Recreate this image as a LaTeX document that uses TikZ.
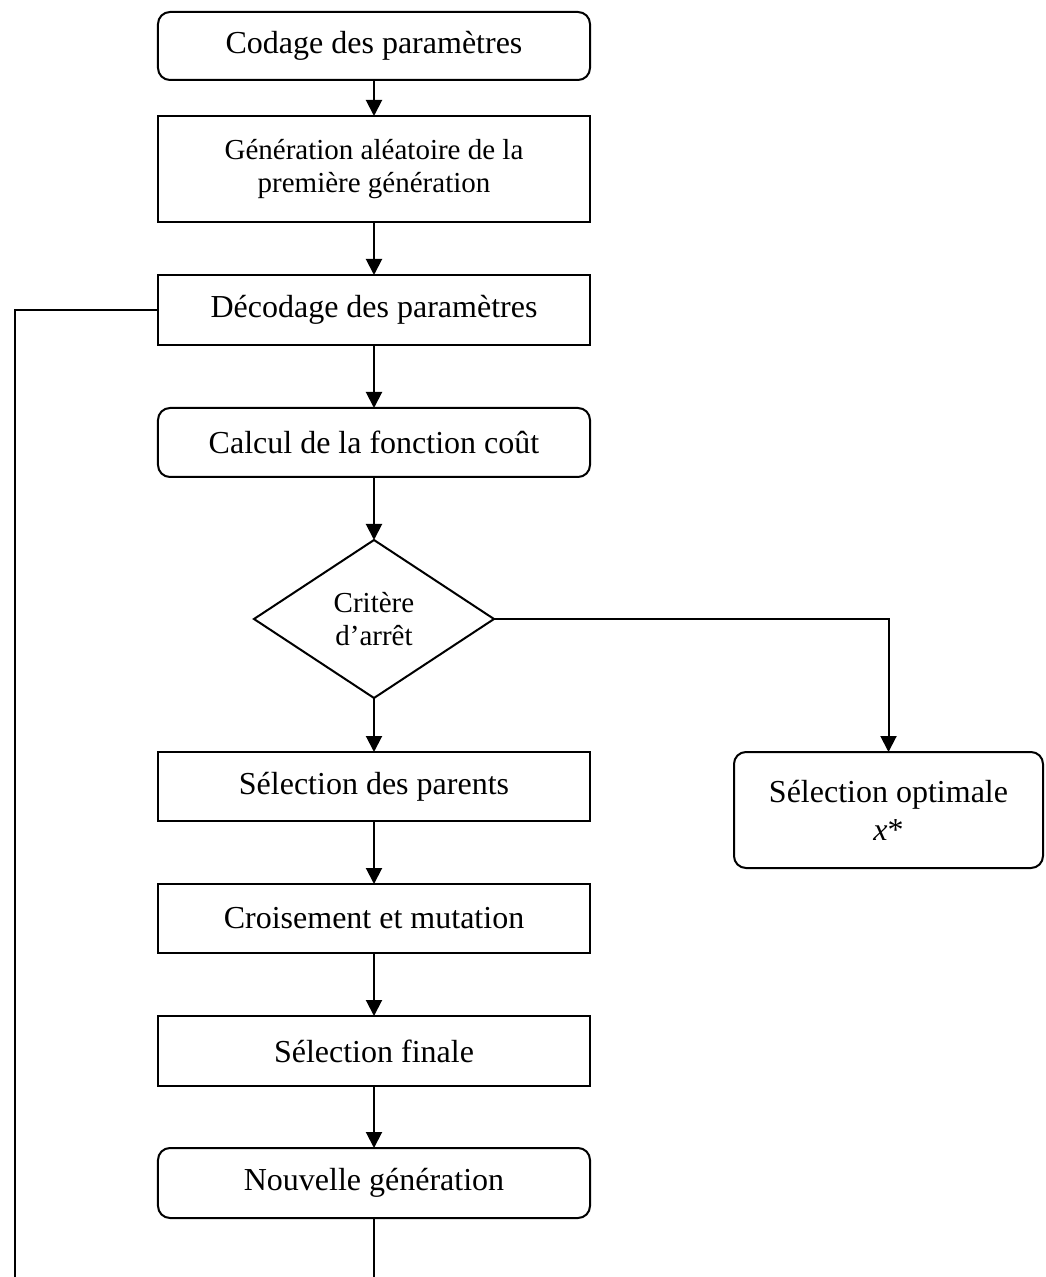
\documentclass[tikz,border=0pt]{standalone}
\usepackage{fontspec}
\setmainfont{Liberation Serif}
\usetikzlibrary{arrows.meta, positioning, shapes.geometric}

\begin{document}
\begin{tikzpicture}[
  node distance=31.5pt,
  box/.style={draw, line width=1pt, outer sep=0pt, align=center, minimum width=216pt, minimum height=34.5pt, inner sep=3pt, font={\fontsize{16}{19}\selectfont}},
  rbox/.style={box, rounded corners=6pt},
  petit/.style={font={\fontsize{14.5}{16.5}\selectfont}},
  test/.style={draw, diamond, line width=1pt, outer sep=0pt, aspect=1.52, minimum width=120pt, minimum height=79pt, inner sep=0pt, align=center, petit},
  arrow/.style={-{Triangle[length=8pt, width=8pt]}, line width=1pt},
  line/.style={line width=1pt}
]

  % cadre de l'image (la boucle est coupée en bas)
  \clip (-187pt,23pt) rectangle (335.5pt,-615.5pt);

  % ALGORITHME GENETIQUE =================

  \node[rbox, minimum height=34pt] (codage) {Codage des paramètres};
  \node[box, petit, below=18pt of codage, minimum height=53pt] (generation) {Génération aléatoire de la\\première génération};
  \node[box, below=26.5pt of generation, minimum height=35pt] (decodage) {Décodage des paramètres};
  \node[rbox, below=of decodage] (calcul) {Calcul de la fonction coût};
  \node[test, below=of calcul] (critere) {Critère\\d’arrêt};
  \node[box, below=27pt of critere] (parents) {Sélection des parents};
  \node[box, below=of parents] (croisement) {Croisement et mutation};
  \node[box, below=of croisement, minimum height=35pt] (finale) {Sélection finale};
  \node[rbox, below=31pt of finale, minimum height=35pt] (nouvelle) {Nouvelle génération};
  % sortie
  \node[rbox, anchor=north west, minimum width=154.5pt, minimum height=58pt] (optimal) at ([xshift=72pt]parents.north east) {Sélection optimale\\\textit{x}*};

  % Flèches
  \draw[arrow] (codage) -- (generation);
  \draw[arrow] (generation) -- (decodage);
  \draw[arrow] (decodage) -- (calcul);
  \draw[arrow] (calcul) -- (critere);
  \draw[arrow] (critere) -- (parents);
  \draw[arrow] (critere.east) -| (optimal.north);
  \draw[arrow] (parents) -- (croisement);
  \draw[arrow] (croisement) -- (finale);
  \draw[arrow] (finale) -- (nouvelle);

  % boucle vers le décodage
  \draw[line] (nouvelle.south) -- ++(0,-100pt) -| ([xshift=-71.5pt]decodage.west) -- (decodage.west);

  %=======================================

\end{tikzpicture}
\end{document}
